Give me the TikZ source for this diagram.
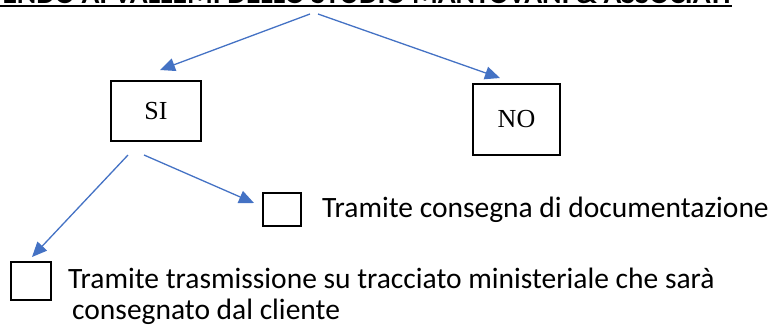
\documentclass[tikz,border=0pt]{standalone}
\usepackage{fontspec}
\setmainfont{Carlito}
\newfontfamily\serifb{Liberation Serif}
\usetikzlibrary{arrows.meta}
\definecolor{arrblue}{HTML}{4472C4}
\tikzset{
  conn/.style={draw=arrblue, line width=1.3pt, -{Triangle[length=15pt,width=13pt]}},
  choice/.style={draw=black, line width=2pt, inner sep=0pt, font=\serifb\fontsize{26}{30}\selectfont},
  tick/.style={draw=black, line width=2pt, inner sep=0pt},
  label/.style={inner sep=0pt, font=\fontsize{29.5}{32}\selectfont, anchor=base west}
}
\begin{document}
\begin{tikzpicture}[x=1pt,y=-1pt]
\useasboundingbox (0,0) rectangle (771,327);
\begin{scope}
\clip (0,0) rectangle (771,327);
\node[anchor=base east, inner sep=0pt, font=\bfseries\fontsize{29.5}{31}\selectfont] (title) at (731,3) {ENDO AI VALLEMI DELLO STUDIO MANTOVANI \& ASSOCIATI};
\end{scope}
\draw[line width=2pt] (0,6) -- (732,6);

\node[choice, minimum width=90pt, minimum height=60pt] (si) at (156,111) {SI};
\node[choice, minimum width=87pt, minimum height=71pt] (no) at (516.5,119.5) {NO};

\node[tick, minimum width=38pt, minimum height=33pt] (c1) at (282,209.5) {};
\node[tick, minimum width=40pt, minimum height=38pt] (c2) at (31,281) {};

\node[label] (t1) at (322,217) {Tramite consegna di documentazione};
\node[label] (t2) at (68,288) {Tramite trasmissione su tracciato ministeriale che sarà};
\node[label] (t3) at (72,319) {consegnato dal cliente};

\coordinate (topL) at (310,14);
\coordinate (topR) at (318,14);
\coordinate (siL) at (128,155);
\coordinate (siR) at (144,155);
\coordinate (tipSI) at (160,70);
\coordinate (tipNO) at (500,78);
\coordinate (tipC1) at (254,203);
\coordinate (tipC2) at (32,257);

\draw[conn] (topL) -- (tipSI);
\draw[conn] (topR) -- (tipNO);
\draw[conn] (siL) -- (tipC2);
\draw[conn] (siR) -- (tipC1);
\end{tikzpicture}
\end{document}
